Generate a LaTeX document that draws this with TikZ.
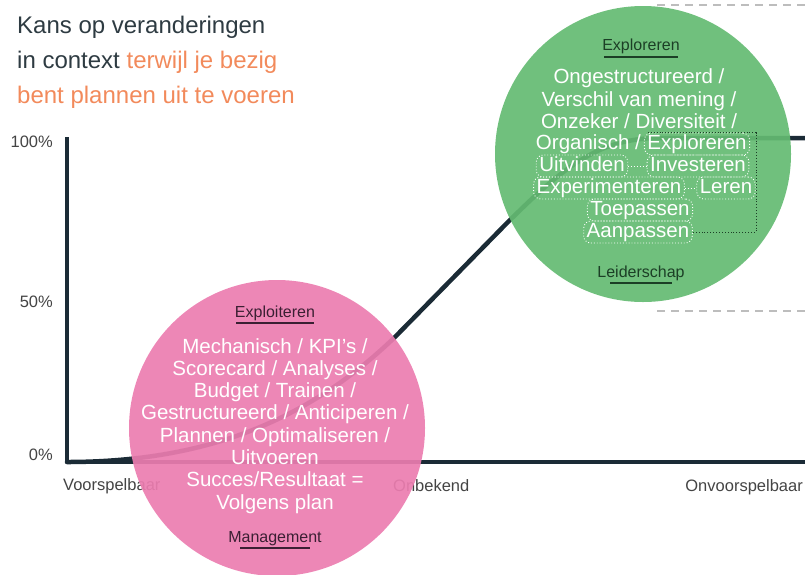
\documentclass[tikz,border=0pt]{standalone}
\usepackage{fontspec}
\setmainfont{Liberation Sans}
\definecolor{navy}{HTML}{1B2B36}
\definecolor{pinkfill}{HTML}{EC7DB0}
\definecolor{greenfill}{HTML}{64BB72}
\definecolor{pinkhead}{HTML}{3B1F33}
\definecolor{greenhead}{HTML}{1C3F26}
\definecolor{titledark}{HTML}{2E3B42}
\definecolor{titleorange}{HTML}{F28A5B}
\definecolor{lblgray}{HTML}{444444}
\definecolor{dashgray}{HTML}{BDBDBD}
\begin{document}
\begin{tikzpicture}[x=1pt,y=-1pt,
  every node/.style={inner sep=0pt},
  axisline/.style={line width=4.5pt, draw=navy, line join=round},
  curveline/.style={line width=4.5pt, draw=navy, line cap=round},
  guide/.style={line width=2.5pt, draw=dashgray, dash pattern=on 8pt off 6pt},
  titletxt/.style={font=\fontsize{24}{28}\selectfont, anchor=base west, text=titledark},
  ticklbl/.style={font=\fontsize{16.5}{20}\selectfont, text=lblgray},
  bodytxt/.style={font=\fontsize{20.5}{22.3}\selectfont, text=white, anchor=base},
  headtxt/.style={font=\fontsize{16}{18}\selectfont, anchor=base},
  bubble/.style={circle, minimum size=296pt, opacity=0.92},
  wordbox/.style={bodytxt, draw=white, dotted, line width=0.9pt, rounded corners=7pt,
     text height=14.5pt, text depth=4.5pt, inner xsep=3pt, inner ysep=1.5pt},
  wordlink/.style={draw=white, dotted, line width=0.9pt},
  darkdot/.style={draw=greenhead, dotted, line width=0.9pt},
  uline/.style={line width=1.2pt}
]
\useasboundingbox (0,0) rectangle (805,574);

% dashed guide lines
\coordinate (g1a) at (657,5);   \coordinate (g1b) at (805,5);
\coordinate (g2a) at (657,311); \coordinate (g2b) at (805,311);
\draw[guide] (g1a) -- (g1b);
\draw[guide] (g2a) -- (g2b);

% axes
\coordinate (ytop) at (67,137);
\coordinate (o) at (67,462);
\coordinate (xend) at (805,462);
\draw[axisline] (ytop) -- (o) -- (xend);

% curve
\coordinate (a1) at (395,337);
\coordinate (a2) at (505,225);
\coordinate (a3) at (660,138);
\coordinate (cend) at (805,138);
\draw[curveline] (o) .. controls (200,462) and (305,424) .. (a1) -- (a2)
   .. controls (565,165) and (600,138) .. (a3) -- (cend);

% axis labels
\node[ticklbl, anchor=base east] (l100) at (53,147) {100\%};
\node[ticklbl, anchor=base east] (l50) at (53,307) {50\%};
\node[ticklbl, anchor=base east] (l0) at (53,460) {0\%};
\node[ticklbl, anchor=base west] (lv) at (63,490) {Voorspelbaar};
\node[ticklbl, anchor=base west] (lo) at (393,491) {Onbekend};
\node[ticklbl, anchor=base east] (lu) at (803,491) {Onvoorspelbaar};

% title
\node[titletxt] (t1) at (17,33) {Kans op veranderingen};
\node[titletxt] (t2) at (17,68) {in context \textcolor{titleorange}{terwijl je bezig}};
\node[titletxt, text=titleorange] (t3) at (17,103) {bent plannen uit te voeren};

% bubbles
\node[bubble, fill=pinkfill] (pc) at (277,428) {};
\node[bubble, fill=greenfill] (gc) at (643,154) {};

% pink bubble text
\node[headtxt, text=pinkhead] (ph1) at (275,317) {Exploiteren};
\draw[uline, pinkhead] ([shift={(-39,6)}]ph1.base) -- ([shift={(39,6)}]ph1.base);
\foreach \t [count=\i] in {Mechanisch / KPI’s /, Scorecard / Analyses /, Budget / Trainen /,
   Gestructureerd / Anticiperen /, Plannen / Optimaliseren /, Uitvoeren,
   Succes/Resultaat =, Volgens plan}
  \node[bodytxt] (pb\i) at (275,{353+22.3*(\i-1)}) {\t};
\node[headtxt, text=pinkhead] (ph2) at (275,542) {Management};
\draw[uline, pinkhead] ([shift={(-35,6)}]ph2.base) -- ([shift={(35,6)}]ph2.base);

% green bubble text
\node[headtxt, text=greenhead] (gh1) at (641,50) {Exploreren};
\draw[uline, greenhead] ([shift={(-37,7)}]gh1.base) -- ([shift={(37,7)}]gh1.base);
\node[bodytxt] (gb1) at (639,83) {Ongestructureerd /};
\node[bodytxt] (gb2) at (639,106) {Verschil van mening /};
\node[bodytxt] (gb3) at (639,128) {Onzeker / Diversiteit /};
\node[bodytxt, anchor=base east] (gb4) at (641,149) {Organisch /};
\node[wordbox] (wexr) at (697,149) {Exploreren};
\node[wordbox] (wuit) at (582,171) {Uitvinden};
\node[wordbox] (winv) at (698,171) {Investeren};
\node[wordbox] (wexp) at (609,193) {Experimenteren};
\node[wordbox] (wler) at (726,193) {Leren};
\node[wordbox] (wtoe) at (640,215) {Toepassen};
\node[wordbox] (waan) at (638,237) {Aanpassen};
\draw[wordlink] (wuit) -- (winv);
\draw[wordlink] (wexp) -- (wler);
\coordinate (rc) at (756,0);
\draw[darkdot] ([xshift=4pt]wexr.north west) -- (wexr.north -| rc) -- (waan.east -| rc) -- (waan.east);
\node[headtxt, text=greenhead] (gh2) at (641,277) {Leiderschap};
\draw[uline, greenhead] ([shift={(-31,6)}]gh2.base) -- ([shift={(31,6)}]gh2.base);
\end{tikzpicture}
\end{document}
